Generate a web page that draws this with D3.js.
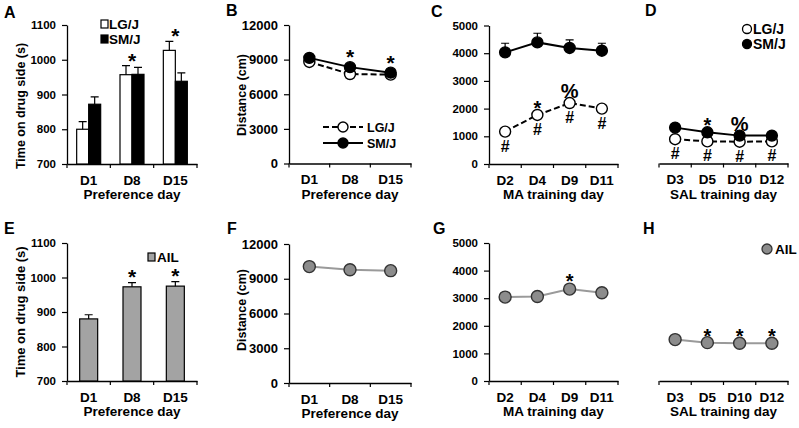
<!DOCTYPE html>
<html><head><meta charset="utf-8">
<script src="https://cdn.jsdelivr.net/npm/d3@7"></script>
<style>body{margin:0;background:#fff}svg{display:block}text{font-family:"Liberation Sans",Arial,sans-serif;font-weight:bold;fill:#000}</style>
</head><body><script>
// ---------- data ----------
const prefDays = ["D1","D8","D15"];
const maDays = ["D2","D4","D9","D11"];
const salDays = ["D3","D5","D10","D12"];
const prefTicks = [700,800,900,1000,1100];
const distTicks = [0,3000,6000,9000,12000];
const trainTicks = [0,1000,2000,3000,4000,5000];

const aLG = [800,957,1027], aLGerr = [22,26,26];
const aSM = [872,958,938], aSMerr = [21,20,24];
const aMarks = ["","*","*"];

const bLG = [8800,7750,7700], bLGerr = [150,120,120];
const bSM = [9150,8350,7870], bSMerr = [300,200,180];
const bMarks = ["","*","*"];

const cSM = [4030,4390,4190,4090], cSMerr = [330,330,290,270];
const cLG = [1170,1770,2200,2000], cLGerr = [60,80,80,70];
const cAbove = ["","*","%",""], cBelow = ["#","#","#","#"];

const dSM = [1300,1130,1010,1010], dSMerr = [40,40,30,30];
const dLG = [880,800,790,800], dLGerr = [30,30,30,30];
const dAbove = ["","*","%",""], dBelow = ["#","#","#","#"];

const eAIL = [880,973,975], eErr = [12,12,13], eMarks = ["","*","*"];
const fAIL = [10050,9780,9700];
const gAIL = [3040,3060,3330,3200], gMarks = ["","","*",""];
const hAIL = [1500,1390,1370,1370], hMarks = ["","*","*","*"];

// ---------- setup ----------
const svg = d3.select("body").append("svg").attr("width",799).attr("height",428);
const GRAYFILL = "#a3a3a3", GRAYPT = "#8c8c8c", GRAYLINE = "#9a9a9a";

function frame(o){
  const x = d3.scaleBand().domain(o.cats).range([o.x0,o.x1]);
  const y = d3.scaleLinear().domain(o.domain).range([o.yb,o.yt]);
  const g = svg.append("g");
  const xa = g.append("g").attr("transform",`translate(0,${o.yb})`)
    .call(d3.axisBottom(x).tickSize(0).tickSizeOuter(0).tickPadding(11));
  xa.select(".domain").attr("stroke","#000").attr("stroke-width",1.3);
  xa.selectAll("text").attr("font-size",13.5).style("font-family","'Liberation Sans',Arial,sans-serif").style("font-weight","bold");
  const bounds = [x.range()[0]].concat(o.cats.map(c=>x(c)+x.bandwidth()));
  g.selectAll(null).data(bounds).join("line")
    .attr("x1",d=>d).attr("x2",d=>d).attr("y1",o.yb).attr("y2",o.yb+4)
    .attr("stroke","#000").attr("stroke-width",1.2);
  if(o.yAxis){
    const ya = g.append("g").attr("transform",`translate(${o.x0},0)`)
      .call(d3.axisLeft(y).tickValues(o.ticks).tickSize(5).tickSizeOuter(0).tickPadding(6).tickFormat(d3.format("d")));
    ya.select(".domain").attr("stroke","#000").attr("stroke-width",1.3);
    ya.selectAll(".tick line").attr("stroke","#000").attr("stroke-width",1.2);
    ya.selectAll("text").attr("font-size",o.yFont).style("font-family","'Liberation Sans',Arial,sans-serif").style("font-weight","bold");
  }
  g.append("text").attr("x",(o.x0+o.x1)/2).attr("y",o.yb+35).attr("text-anchor","middle")
    .attr("font-size",13.5).text(o.xTitle);
  if(o.yTitle){
    g.append("text").attr("transform",`translate(${o.ytx},${o.yty}) rotate(-90)`).attr("text-anchor","middle")
      .attr("font-size",o.ytFont).text(o.yTitle);
  }
  g.append("text").attr("x",o.lx).attr("y",o.ly).attr("font-size",16).text(o.letter);
  return {x,y,g,cx:c=>x(c)+x.bandwidth()/2};
}

function errBars(P, cats, vals, errs, dx, cap){
  P.g.selectAll(null).data(cats).join("path")
    .attr("d",(c,i)=>{const xx=P.cx(c)+dx, y0=P.y(vals[i]), y1=P.y(vals[i]+errs[i]);
      return `M${xx},${y0}V${y1}M${xx-cap/2},${y1}H${xx+cap/2}`;})
    .attr("stroke","#000").attr("stroke-width",1.2).attr("fill","none");
}
// '*' sits high in its em box; '%' needs extra lift to sit at the same height
function marks(P, cats, ref, labels, off, size){
  P.g.selectAll(null).data(cats).join("text")
    .attr("x",c=>P.cx(c)).attr("y",(c,i)=>P.y(ref[i])+off+(labels[i]==="%"?-5:0))
    .attr("text-anchor","middle").attr("font-size",size)
    .text((c,i)=>labels[i]);
}
function series(P, cats, vals, opt){
  const line = d3.line().x((d,i)=>P.cx(cats[i])).y(d=>P.y(d));
  P.g.append("path").datum(vals).attr("d",line).attr("fill","none")
    .attr("stroke",opt.stroke).attr("stroke-width",2).attr("stroke-dasharray",opt.dash||null);
  if(opt.errs) errBars(P,cats,vals,opt.errs,0,8);
  P.g.selectAll(null).data(vals).join("circle")
    .attr("cx",(d,i)=>P.cx(cats[i])).attr("cy",d=>P.y(d)).attr("r",opt.r||5.5)
    .attr("fill",opt.fill).attr("stroke",opt.ptStroke||"#000").attr("stroke-width",1.4);
}

// ---------- A ----------
{
  const P = frame({cats:prefDays,x0:67,x1:197,yb:164,yt:25,domain:[700,1100],ticks:prefTicks,yAxis:true,yFont:11.5,
    xTitle:"Preference day",yTitle:"Time on drug side (s)",ytx:25,yty:106,ytFont:12.5,letter:"A",lx:4,ly:18});
  const bw = 12;
  P.g.selectAll(null).data(prefDays).join("rect")
    .attr("x",c=>P.cx(c)-bw).attr("width",bw).attr("y",(c,i)=>P.y(aLG[i])).attr("height",(c,i)=>P.y(700)-P.y(aLG[i]))
    .attr("fill","#fff").attr("stroke","#000").attr("stroke-width",1.2);
  P.g.selectAll(null).data(prefDays).join("rect")
    .attr("x",c=>P.cx(c)).attr("width",bw).attr("y",(c,i)=>P.y(aSM[i])).attr("height",(c,i)=>P.y(700)-P.y(aSM[i]))
    .attr("fill","#000").attr("stroke","#000").attr("stroke-width",1.2);
  errBars(P,prefDays,aLG,aLGerr,-bw/2,8);
  errBars(P,prefDays,aSM,aSMerr,bw/2,8);
  const tops = prefDays.map((c,i)=>Math.max(aLG[i]+aLGerr[i],aSM[i]+aSMerr[i]));
  marks(P,prefDays,tops,aMarks,2,21);
  // legend
  P.g.append("rect").attr("x",101).attr("y",20).attr("width",7).attr("height",8).attr("fill","#fff").attr("stroke","#000").attr("stroke-width",1.2);
  P.g.append("text").attr("x",109).attr("y",29).attr("font-size",13.5).text("LG/J");
  P.g.append("rect").attr("x",101).attr("y",35).attr("width",7).attr("height",8).attr("fill","#000").attr("stroke","#000").attr("stroke-width",1.2);
  P.g.append("text").attr("x",109).attr("y",44).attr("font-size",13.5).text("SM/J");
}
// ---------- B ----------
{
  const P = frame({cats:prefDays,x0:289,x1:411,yb:163.5,yt:25,domain:[0,12000],ticks:distTicks,yAxis:true,yFont:13,
    xTitle:"Preference day",yTitle:"Distance (cm)",ytx:246,yty:95,ytFont:12.5,letter:"B",lx:226,ly:16});
  series(P,prefDays,bLG,{stroke:"#000",dash:"6,3",fill:"#fff",errs:bLGerr});
  series(P,prefDays,bSM,{stroke:"#000",fill:"#000",errs:bSMerr});
  marks(P,prefDays,bSM,bMarks,-3,21);
  P.g.append("line").attr("x1",323).attr("x2",363).attr("y1",127).attr("y2",127).attr("stroke","#000").attr("stroke-width",2).attr("stroke-dasharray","6,3");
  P.g.append("circle").attr("cx",343).attr("cy",127).attr("r",5).attr("fill","#fff").attr("stroke","#000").attr("stroke-width",1.4);
  P.g.append("text").attr("x",367).attr("y",131.5).attr("font-size",12.5).text("LG/J");
  P.g.append("line").attr("x1",323).attr("x2",363).attr("y1",143).attr("y2",143).attr("stroke","#000").attr("stroke-width",2);
  P.g.append("circle").attr("cx",343).attr("cy",143).attr("r",5).attr("fill","#000").attr("stroke","#000").attr("stroke-width",1.4);
  P.g.append("text").attr("x",367).attr("y",147.5).attr("font-size",12.5).text("SM/J");
}
// ---------- C ----------
{
  const P = frame({cats:maDays,x0:489,x1:618,yb:164,yt:25.5,domain:[0,5000],ticks:trainTicks,yAxis:true,yFont:11.5,
    xTitle:"MA training day",letter:"C",lx:431,ly:17});
  series(P,maDays,cLG,{stroke:"#000",dash:"6,3",fill:"#fff"});
  series(P,maDays,cSM,{stroke:"#000",fill:"#000",errs:cSMerr});
  marks(P,maDays,cLG,cAbove,0,20);
  marks(P,maDays,cLG,cBelow,20,16);
}
// ---------- D ----------
{
  const P = frame({cats:salDays,x0:659,x1:788,yb:163.5,yt:25.5,domain:[0,5000],ticks:trainTicks,yAxis:false,
    xTitle:"SAL training day",letter:"D",lx:645,ly:16});
  series(P,salDays,dLG,{stroke:"#000",dash:"6,3",fill:"#fff"});
  series(P,salDays,dSM,{stroke:"#000",fill:"#000"});
  marks(P,salDays,dSM,dAbove,0,20);
  marks(P,salDays,dLG,dBelow,20,16);
  P.g.append("circle").attr("cx",747).attr("cy",29).attr("r",4.5).attr("fill","#fff").attr("stroke","#000").attr("stroke-width",1.3);
  P.g.append("text").attr("x",753).attr("y",34).attr("font-size",14).text("LG/J");
  P.g.append("circle").attr("cx",747).attr("cy",44).attr("r",4.5).attr("fill","#000").attr("stroke","#000").attr("stroke-width",1.3);
  P.g.append("text").attr("x",753).attr("y",49).attr("font-size",14).text("SM/J");
}
// ---------- E ----------
{
  const P = frame({cats:prefDays,x0:67,x1:197,yb:381,yt:243,domain:[700,1100],ticks:prefTicks,yAxis:true,yFont:11.5,
    xTitle:"Preference day",yTitle:"Time on drug side (s)",ytx:25,yty:312,ytFont:13,letter:"E",lx:4,ly:234});
  const bw = 18;
  P.g.selectAll(null).data(prefDays).join("rect")
    .attr("x",c=>P.cx(c)-bw/2).attr("width",bw).attr("y",(c,i)=>P.y(eAIL[i])).attr("height",(c,i)=>P.y(700)-P.y(eAIL[i]))
    .attr("fill",GRAYFILL).attr("stroke","#000").attr("stroke-width",1.2);
  errBars(P,prefDays,eAIL,eErr,0,8);
  marks(P,prefDays,eAIL.map((v,i)=>v+eErr[i]),eMarks,1,21);
  P.g.append("rect").attr("x",148).attr("y",253).attr("width",7).attr("height",8).attr("fill",GRAYFILL).attr("stroke","#000").attr("stroke-width",1.2);
  P.g.append("text").attr("x",157).attr("y",262).attr("font-size",13.5).text("AIL");
}
// ---------- F ----------
{
  const P = frame({cats:prefDays,x0:289,x1:411,yb:383,yt:244,domain:[0,12000],ticks:distTicks,yAxis:true,yFont:13,
    xTitle:"Preference day",yTitle:"Distance (cm)",ytx:246,yty:310,ytFont:12.5,letter:"F",lx:227,ly:234});
  series(P,prefDays,fAIL,{stroke:GRAYLINE,fill:GRAYPT,ptStroke:"#333",r:6});
}
// ---------- G ----------
{
  const P = frame({cats:maDays,x0:489,x1:618,yb:381,yt:243,domain:[0,5000],ticks:trainTicks,yAxis:true,yFont:11.5,
    xTitle:"MA training day",letter:"G",lx:433,ly:234});
  series(P,maDays,gAIL,{stroke:GRAYLINE,fill:GRAYPT,ptStroke:"#333",r:6});
  marks(P,maDays,gAIL,gMarks,-1,20);
}
// ---------- H ----------
{
  const P = frame({cats:salDays,x0:659,x1:788,yb:381,yt:243,domain:[0,5000],ticks:trainTicks,yAxis:false,
    xTitle:"SAL training day",letter:"H",lx:643,ly:234});
  series(P,salDays,hAIL,{stroke:GRAYLINE,fill:GRAYPT,ptStroke:"#333",r:6});
  marks(P,salDays,hAIL,hMarks,0,20);
  P.g.append("circle").attr("cx",767).attr("cy",249).attr("r",5).attr("fill",GRAYPT).attr("stroke","#333").attr("stroke-width",1.3);
  P.g.append("text").attr("x",775).attr("y",254).attr("font-size",13.5).text("AIL");
}
</script></body></html>
